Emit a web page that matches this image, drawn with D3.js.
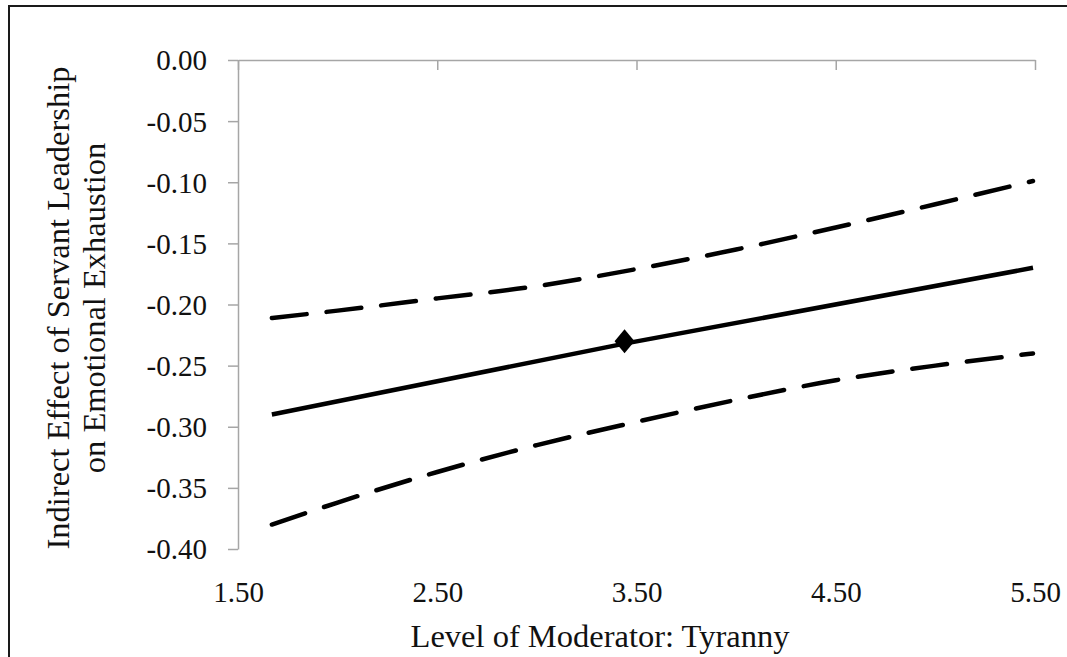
<!DOCTYPE html>
<html>
<head>
<meta charset="utf-8">
<script src="https://cdn.jsdelivr.net/npm/d3@7"></script>
<style>
  body { margin: 0; background: #fff; }
  svg { display: block; }
  .axis path, .axis line { stroke: #a6a6a6; stroke-width: 1.5; }
  .axis text { font-family: "Liberation Serif", serif; font-size: 29px; fill: #111; }
  .label { font-family: "Liberation Serif", serif; font-size: 32.5px; fill: #111; }
</style>
</head>
<body>
<svg id="chart" width="1067" height="657"></svg>
<script>
// moderator levels (tyranny)
const xTicks = [1.5, 2.5, 3.5, 4.5, 5.5];
const yTicks = [0, -0.05, -0.1, -0.15, -0.2, -0.25, -0.3, -0.35, -0.4];

// indirect effect (solid)
const effect = [
  [1.67, -0.29],
  [3.44, -0.232],
  [5.49, -0.17],
];
// point estimate at mean of moderator
const marker = [[3.44, -0.23]];

// confidence bands (dashed)
const upper = [
  [1.67, -0.211], [2.0, -0.205], [2.5, -0.195], [3.0, -0.185], [3.5, -0.171],
  [4.0, -0.155], [4.5, -0.137], [5.0, -0.118], [5.49, -0.099],
];
const lower = [
  [1.67, -0.38], [2.0, -0.362], [2.5, -0.337], [3.0, -0.315], [3.5, -0.296],
  [4.0, -0.278], [4.5, -0.262], [5.0, -0.25], [5.49, -0.24],
];

const fmt = (d) => d3.format(".2f")(d).replace("\u2212", "-");

const svg = d3.select("#chart");

// outer frame
svg.append("rect")
  .attr("x", 9).attr("y", 6)
  .attr("width", 1100).attr("height", 700)
  .attr("fill", "none")
  .attr("stroke", "#1a1a1a")
  .attr("stroke-width", 2);

const x = d3.scaleLinear().domain([1.5, 5.5]).range([238, 1035]);
const y = d3.scaleLinear().domain([-0.4, 0]).range([549, 60]);

// x axis line sits at y = 0 with ticks hanging down
svg.append("g")
  .attr("class", "axis")
  .attr("transform", `translate(0, ${y(0)})`)
  .call(d3.axisBottom(x).tickValues(xTicks).tickSize(10).tickSizeOuter(0).tickFormat(""));

// x labels at the low end
svg.append("g")
  .attr("class", "axis")
  .attr("transform", `translate(0, ${y(-0.4)})`)
  .call(d3.axisBottom(x).tickValues(xTicks).tickSize(0).tickPadding(32).tickFormat(fmt))
  .call((g) => g.select(".domain").remove());

svg.append("g")
  .attr("class", "axis")
  .attr("transform", `translate(${x(1.5)}, 0)`)
  .call(d3.axisLeft(y).tickValues(yTicks).tickSize(10).tickSizeOuter(0).tickPadding(21).tickFormat(fmt))
  .call((g) => g.selectAll("text").attr("dy", "0.34em"));

const line = d3.line().x((d) => x(d[0])).y((d) => y(d[1]));
const curve = d3.line().x((d) => x(d[0])).y((d) => y(d[1])).curve(d3.curveMonotoneX);

svg.append("path")
  .attr("d", line(effect))
  .attr("fill", "none")
  .attr("stroke", "#000")
  .attr("stroke-width", 4.5);

svg.selectAll(".band")
  .data([upper, lower])
  .join("path")
  .attr("class", "band")
  .attr("d", curve)
  .attr("fill", "none")
  .attr("stroke", "#000")
  .attr("stroke-width", 4.5)
  .attr("stroke-linecap", "round")
  .attr("stroke-dasharray", "35 20");

svg.selectAll(".marker")
  .data(marker)
  .join("path")
  .attr("class", "marker")
  .attr("d", (d) => {
    const cx = x(d[0]), cy = y(d[1]);
    return `M ${cx} ${cy - 12} L ${cx + 10} ${cy} L ${cx} ${cy + 12} L ${cx - 10} ${cy} Z`;
  })
  .attr("fill", "#000");

svg.append("text")
  .attr("class", "label")
  .attr("x", 600)
  .attr("y", 647)
  .attr("text-anchor", "middle")
  .text("Level of Moderator: Tyranny");

const yLabel = svg.append("text")
  .attr("class", "label")
  .attr("text-anchor", "middle")
  .attr("transform", `translate(69, 308) rotate(-90)`);
yLabel.append("tspan").attr("x", 0).attr("dy", 0).text("Indirect Effect of Servant Leadership");
yLabel.append("tspan").attr("x", 0).attr("dy", 36).text("on Emotional Exhaustion");
</script>
</body>
</html>
